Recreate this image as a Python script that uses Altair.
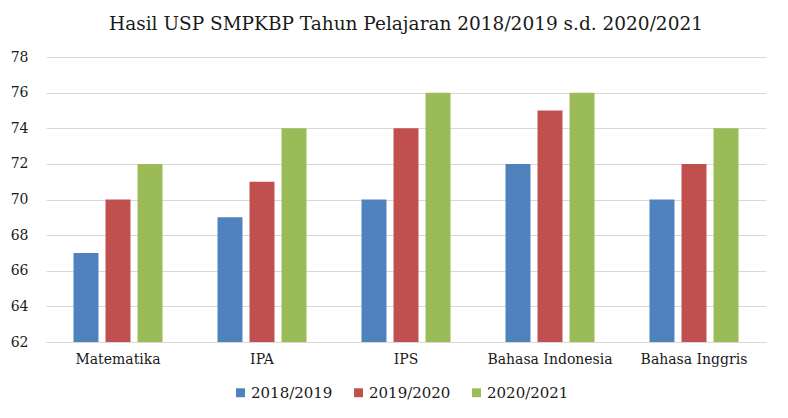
import altair as alt
import pandas as pd

categories = ["Matematika", "IPA", "IPS", "Bahasa Indonesia", "Bahasa Inggris"]
years = ["2018/2019", "2019/2020", "2020/2021"]
v2018 = [67, 69, 70, 72, 70]
v2019 = [70, 71, 74, 75, 72]
v2020 = [72, 74, 76, 76, 74]
colors = ["#4F81BD", "#C0504D", "#9BBB59"]

rows = []
for yr, vals in zip(years, [v2018, v2019, v2020]):
    for c, v in zip(categories, vals):
        rows.append({"Mapel": c, "Tahun": yr, "Nilai": v, "Base": 62})
df = pd.DataFrame(rows)

FONT = "DejaVu Serif"

chart = alt.Chart(df).mark_bar(clip=True).encode(
    x=alt.X("Mapel:N", sort=categories, title=None,
            scale=alt.Scale(paddingInner=0.382, paddingOuter=0.191),
            axis=alt.Axis(labelAngle=0, ticks=False, domain=True, domainColor="#D9D9D9",
                          labelPadding=10, labelFontSize=14, labelColor="#1a1a1a",
                          labelFont=FONT)),
    xOffset=alt.XOffset("Tahun:N", sort=years, scale=alt.Scale(paddingInner=0.22, paddingOuter=0)),
    y=alt.Y("Nilai:Q", title=None,
            scale=alt.Scale(domain=[62, 78], zero=False, nice=False),
            axis=alt.Axis(values=list(range(62, 80, 2)), ticks=False, domain=False,
                          gridColor="#D9D9D9", labelPadding=18, labelFontSize=14,
                          labelColor="#1a1a1a", labelFont=FONT)),
    y2=alt.Y2("Base:Q"),
    color=alt.Color("Tahun:N", sort=years, scale=alt.Scale(domain=years, range=colors),
                    legend=alt.Legend(title=None, orient="none", direction="horizontal",
                                      legendX=187, legendY=328, symbolType="square",
                                      symbolSize=80, symbolStrokeWidth=0,
                                      labelFontSize=15, labelColor="#1a1a1a",
                                      labelFont=FONT, columnPadding=18, labelOffset=3)),
).properties(
    width=720, height=285,
    title=alt.TitleParams("Hasil USP SMPKBP Tahun Pelajaran 2018/2019 s.d. 2020/2021",
                          fontSize=18.5, font=FONT, fontWeight="normal", color="#1a1a1a",
                          anchor="middle", offset=17),
    autosize=alt.AutoSizeParams(type="none"),
    padding={"left": 38, "top": 49, "right": 14, "bottom": 60},
).configure(font=FONT).configure_view(stroke=None)

chart.save("out.html", embed_options={"renderer": "svg", "actions": False})
